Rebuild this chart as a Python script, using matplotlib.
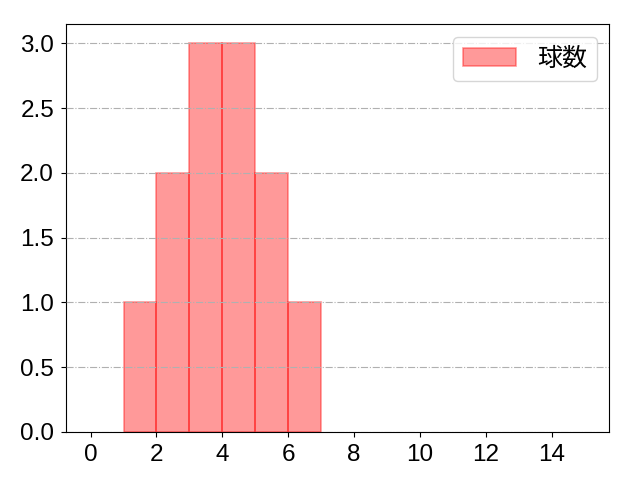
import numpy as np
import matplotlib
matplotlib.use('Agg')
import matplotlib.pyplot as plt

plt.rcParams['font.family'] = ['Liberation Sans', 'Noto Sans CJK JP', 'DejaVu Sans']

# pitch counts per plate appearance
pitches = [1, 2, 2, 3, 3, 3, 4, 4, 4, 5, 5, 6]
bins = np.arange(0, 16)
xticks = np.arange(0, 16, 2)
label = '球数'

fig, ax = plt.subplots(figsize=(6.4, 4.8), dpi=100)
counts, edges, patches = ax.hist(pitches, bins=bins, color='#ff0000', alpha=0.4,
                                 edgecolor='#ff0000', linewidth=1.2, label=label)
# empty bins would otherwise leave an edge line on the x axis
for c, p in zip(counts, patches):
    if c == 0:
        p.set_visible(False)
ax.grid(axis='y', linestyle='-.', color='#b0b0b0', linewidth=0.8)
ax.set_axisbelow(False)
ax.set_xticks(xticks)
ax.tick_params(labelsize=17.5, pad=5)
ax.legend(handles=[patches[int(np.argmax(counts))]], labels=[label],
          fontsize=18, loc='upper right', handlelength=2.1, handletextpad=0.85)
fig.subplots_adjust(left=0.103, right=0.952, top=0.95, bottom=0.1)
fig.savefig('out.png')
